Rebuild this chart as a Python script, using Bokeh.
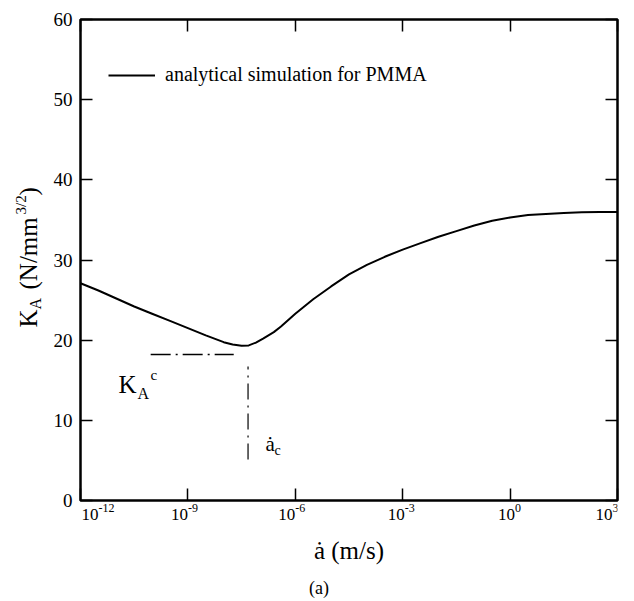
from math import pi
from bokeh.plotting import figure
from bokeh.layouts import row, column
from bokeh.models import (FixedTicker, LogAxis, LinearAxis, Label, Legend, LegendItem,
                          Range1d, CustomJSTickFormatter)
from bokeh.core.properties import value
from bokeh.embed import file_html
from bokeh.resources import INLINE

# ---------------- data ----------------
log_speed = [-12.0, -11.5, -11.0, -10.5, -10.0, -9.5, -9.0, -8.5, -8.0, -7.75, -7.5,
             -7.3, -7.1, -6.9, -6.6, -6.4, -6.0, -5.5, -5.0, -4.5, -4.0, -3.5, -3.0,
             -2.5, -2.0, -1.5, -1.0, -0.5, 0.0, 0.5, 1.0, 1.5, 2.0, 2.5, 3.0]
K_A = [27.1, 26.2, 25.2, 24.2, 23.3, 22.4, 21.5, 20.6, 19.75, 19.45, 19.3,
       19.35, 19.7, 20.2, 21.0, 21.7, 23.3, 25.1, 26.7, 28.2, 29.4, 30.4, 31.3,
       32.1, 32.9, 33.6, 34.3, 34.9, 35.3, 35.6, 35.75, 35.85, 35.95, 36.0, 36.0]

x_tick_exp = [-12, -9, -6, -3, 0, 3]
x_tick_base = ["10"] * 6
x_tick_sup = ["-12", "-9", "-6", "-3", "0", "3"]
y_ticks = [0, 10, 20, 30, 40, 50, 60]
y_tick_labels = ["0", "10", "20", "30", "40", "50", "60"]

Kc_level = 18.2                 # K_A^c marker (horizontal dash-dot)
Kc_span_exp = [-10.04, -7.72]
ac_exp = -7.32                  # a_c marker (vertical dash-dot)
ac_span = [5.1, 16.7]

legend_text = "analytical simulation for PMMA"
x_title = "ȧ (m/s)"
caption = "(a)"
y_title_parts = ["K", "A", "(N/mm", "3/2", ")"]

speed = [10 ** e for e in log_speed]
x_ticks = [10 ** e for e in x_tick_exp]

# ---------------- layout ----------------
FONT = "Liberation Serif"
MID = 0.34                      # line-box middle above the baseline, in em
W, H = 634, 601
FL, FR, FT, FB = 80, 617, 19, 500   # frame edges on the page
PAD = 2                         # room for half of the frame outline
LEFT_W = FL - PAD               # strip holding the y title and y tick labels
MAIN_W = W - LEFT_W
MAIN_H = FB + PAD
BOT_H = H - MAIN_H
Y0, Y1 = 0, 60

xr = Range1d(1e-12, 1e3)
yr = Range1d(Y0, Y1)

p = figure(width=MAIN_W, height=MAIN_H, x_axis_type="log",
           x_range=xr, y_range=yr,
           output_backend="svg", toolbar_location=None,
           min_border_left=PAD, min_border_right=W - FR,
           min_border_top=FT, min_border_bottom=PAD)
p.grid.visible = False
p.outline_line_color = "black"
p.outline_line_width = 2.5
p.background_fill_color = "white"
p.border_fill_color = "white"

blank = CustomJSTickFormatter(code="return ''")


def style_axis(ax):
    ax.axis_line_color = None
    ax.major_tick_in = 12
    ax.major_tick_out = 0
    ax.major_tick_line_width = 1.5
    ax.major_tick_line_color = "black"
    ax.minor_tick_line_color = None
    ax.formatter = blank
    ax.major_label_text_font_size = "0px"
    ax.major_label_standoff = 0
    ax.axis_label = None


xt = FixedTicker(ticks=x_ticks, minor_ticks=[])
yt = FixedTicker(ticks=y_ticks, minor_ticks=[])

p.xaxis.ticker = xt
style_axis(p.xaxis[0])
p.yaxis.ticker = yt
style_axis(p.yaxis[0])

top = LogAxis(ticker=xt)
style_axis(top)
p.add_layout(top, "above")
right = LinearAxis(ticker=yt)
style_axis(right)
p.add_layout(right, "right")

# ---------------- marks ----------------
curve = p.line(speed, K_A, line_color="black", line_width=2)
p.line([10 ** e for e in Kc_span_exp], [Kc_level, Kc_level],
       line_color="black", line_width=1.5, line_dash="20 5 2 5")
p.line([10 ** ac_exp, 10 ** ac_exp], ac_span,
       line_color="black", line_width=1.2, line_dash="16 6 2 6")

legend = Legend(items=[LegendItem(label=legend_text, renderers=[curve])],
                location=(108 - FL, FB - 86), padding=0, margin=0, spacing=0,
                glyph_width=47, glyph_height=20, label_standoff=10,
                label_text_font=FONT, label_text_font_size="20px",
                label_text_color="black", label_height=20,
                border_line_color=None, background_fill_alpha=0)
p.add_layout(legend)


def data_label(text, x, y, size, dx=0, dy=0):
    # dy is the baseline offset; anchor at the middle of the line box
    p.add_layout(Label(x=x, y=y, x_offset=dx, y_offset=dy + MID * size, text=text,
                       text_font=FONT, text_font_size=f"{size}px",
                       text_color="black", text_align="left",
                       text_baseline="middle"))


# in-plot annotations
data_label("K", 10 ** -10.94, 13.4, 25)
data_label("A", 10 ** -10.94, 13.4, 16, dx=19, dy=-6)
data_label("c", 10 ** -10.94, 13.4, 15, dx=32, dy=13)
data_label("ȧ", 10 ** -6.83, 6.16, 21)
data_label("c", 10 ** -6.83, 6.16, 14, dx=9, dy=-4)

# ---------------- bottom strip: x tick labels, x title, caption ----------------
bot = figure(width=MAIN_W, height=BOT_H, x_axis_type="log", x_range=xr,
             y_range=Range1d(BOT_H, 0), output_backend="svg", toolbar_location=None,
             x_axis_location=None, y_axis_location=None,
             min_border_left=PAD, min_border_right=W - FR,
             min_border_top=0, min_border_bottom=0)
bot.grid.visible = False
bot.outline_line_color = None
bot.background_fill_color = "white"
bot.border_fill_color = "white"


def bot_text(x, base_y, text, size, dx=0, align="left"):
    bot.text(x=[x], y=[base_y - MAIN_H - MID * size], text=[text], x_offset=dx,
             text_font=value(FONT), text_font_size=value(f"{size}px"),
             text_color="black", text_align=align, text_baseline="middle")


shifts = [18, 0, 0, 2, 5, -5]
for tick, base, sup, s in zip(x_ticks, x_tick_base, x_tick_sup, shifts):
    bot_text(tick, 520, base, 17, dx=s, align="right")
    bot_text(tick, 512, sup, 12, dx=s, align="left")

mid = 10 ** -4.5
bot_text(mid, 558, x_title, 25, dx=0, align="center")
bot_text(mid, 594, caption, 18, dx=-30, align="center")

# ---------------- left strip: y tick labels and y title ----------------
k = (FB - FT) / (Y1 - Y0)               # px per unit of the main y scale
lf = figure(width=LEFT_W, height=H, x_range=Range1d(0, LEFT_W), y_range=Range1d(H, 0),
            output_backend="svg", toolbar_location=None,
            x_axis_location=None, y_axis_location=None,
            min_border_left=0, min_border_right=0, min_border_top=0, min_border_bottom=0)
lf.extra_y_ranges = {"val": Range1d(Y0 - (H - FB) / k, Y1 + FT / k)}
lf.grid.visible = False
lf.outline_line_color = None
lf.background_fill_color = "white"
lf.border_fill_color = "white"

lf.text(x=[72] * len(y_ticks), y=y_ticks, text=y_tick_labels, y_range_name="val",
        text_font=value(FONT), text_font_size=value("19px"), text_color="black",
        text_align="right", text_baseline="middle")

part_base_x = [36, 40, 36, 26, 36]      # baseline positions of the rotated pieces
part_y = [327, 309, 289, 214, 195]
part_size = [25, 16, 25, 15, 25]
for t, bx, yy, fs in zip(y_title_parts, part_base_x, part_y, part_size):
    lf.text(x=[bx - MID * fs], y=[yy], text=[t], angle=pi / 2,
            text_font=value(FONT), text_font_size=value(f"{fs}px"), text_color="black",
            text_align="left", text_baseline="middle")

layout = row(lf, column(p, bot, spacing=0), spacing=0)
open("out.html", "w").write(file_html(layout, INLINE))
